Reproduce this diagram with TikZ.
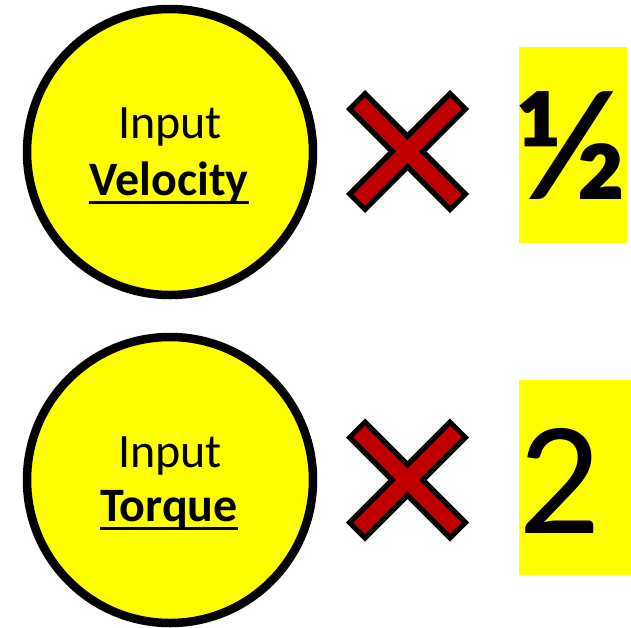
\documentclass[tikz,border=0pt]{standalone}
\usepackage{fontspec}
\setmainfont{Carlito}
\begin{document}
\begin{tikzpicture}[x=1pt,y=-1pt,
  disc/.style={circle,draw=black,fill=yellow,line width=8.5pt,minimum size=286pt,inner sep=0pt},
  lbl/.style={inner sep=0pt,anchor=base,font=\fontsize{48}{48}\selectfont},
  blbl/.style={lbl,font=\fontsize{48}{48}\selectfont\bfseries},
  uline/.style={line width=3pt},
  xouter/.style={draw=black,line width=27pt},
  xinner/.style={draw=xred,line width=16pt},
  ybox/.style={fill=yellow,draw=none}]
\definecolor{xred}{HTML}{C00000}
\definecolor{yellow}{HTML}{FFFF00}
\useasboundingbox (0,0) rectangle (631,627);
% circles
\node[disc] (c1) at (170,152) {};
\node[disc] (c2) at (170,480) {};
\node[lbl] (in1) at (170,138) {Input};
\node[blbl] (vel) at (169,195) {Velocity};
\draw[uline] ([yshift=-7.5pt]vel.base west) -- ([yshift=-7.5pt]vel.base east);
\node[lbl] (in2) at (170,467) {Input};
\node[blbl] (tor) at (169,521) {Torque};
\draw[uline] ([yshift=-7.5pt]tor.base west) -- ([yshift=-7.5pt]tor.base east);
% X marks
\foreach \n/\cy in {1/151.5,2/480} {
  \coordinate (xa\n) at (355.5,\cy-52);
  \coordinate (xb\n) at (459.5,\cy+52);
  \coordinate (xc\n) at (459.5,\cy-52);
  \coordinate (xd\n) at (355.5,\cy+52);
  \draw[xouter] (xa\n) -- (xb\n);
  \draw[xouter] (xc\n) -- (xd\n);
  \draw[xinner,shorten <=5pt,shorten >=5pt] (xa\n) -- (xb\n);
  \draw[xinner,shorten <=5pt,shorten >=5pt] (xc\n) -- (xd\n);
}
% yellow boxes
\fill[ybox] (519,47) rectangle (627,243);
\fill[ybox] (519,380) rectangle (631,575);
\node[inner sep=0pt,font=\fontsize{158}{158}\selectfont\bfseries] (half) at (572,146) {½};
\node[inner sep=0pt,font=\fontsize{162}{162}\selectfont] (two) at (560,481) {2};
\end{tikzpicture}
\end{document}
